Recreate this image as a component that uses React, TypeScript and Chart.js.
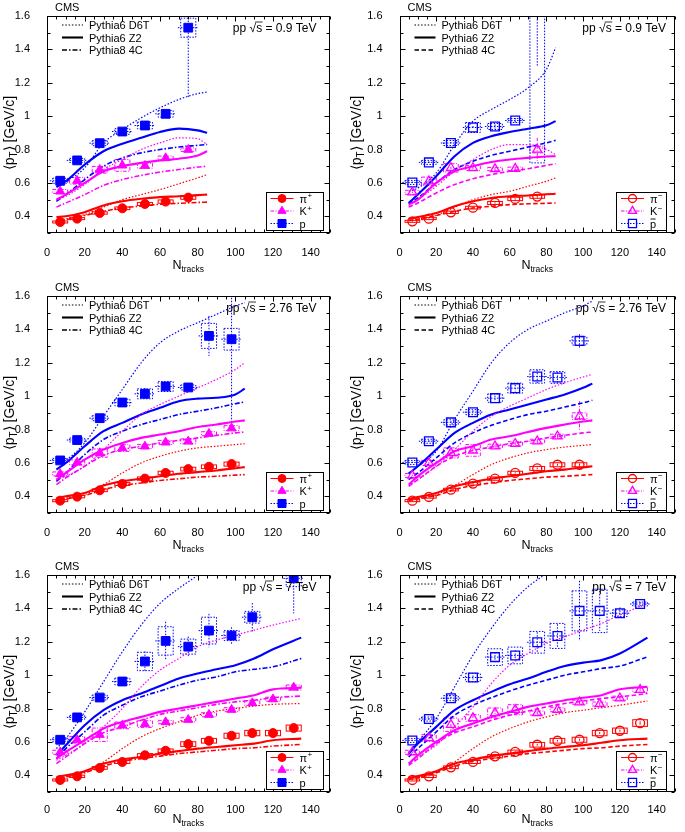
import React, { useEffect, useRef } from "react";
import { Chart, registerables } from "chart.js";

Chart.register(...registerables);

const FONT = '"Liberation Sans", Arial, Helvetica, sans-serif';

// ---------------- axis ticks ----------------
const X_TICKS = [0, 20, 40, 60, 80, 100, 120, 140];
const X_TICK_LABELS = ["0", "20", "40", "60", "80", "100", "120", "140"];
const Y_TICKS = [0.4, 0.6, 0.8, 1.0, 1.2, 1.4, 1.6];
const Y_TICK_LABELS = ["0.4", "0.6", "0.8", "1", "1.2", "1.4", "1.6"];

// ---------------- data: sqrt(s) = 0.9 TeV ----------------
const N_09 = [7, 16, 28, 40, 52, 63, 75];
const PIP_09 = [0.366, 0.386, 0.42, 0.448, 0.474, 0.488, 0.512];
const PIP_09_SYS = [0.006, 0.006, 0.007, 0.008, 0.009, 0.01, 0.01];
const PIP_09_STAT = [0.002, 0.002, 0.003, 0.003, 0.004, 0.004, 0.006];
const KP_09 = [0.549, 0.613, 0.679, 0.705, 0.703, 0.749, 0.799];
const KP_09_SYS = [0.012, 0.02, 0.02, 0.035, 0.015, 0.012, 0.01];
const KP_09_STAT = [0.004, 0.005, 0.006, 0.008, 0.01, 0.012, 0.015];
const PP_09 = [0.613, 0.735, 0.838, 0.908, 0.944, 1.014, 1.53];
const PP_09_SYS = [0.015, 0.012, 0.015, 0.017, 0.02, 0.02, 0.057];
const PP_09_STAT = [0.005, 0.006, 0.007, 0.009, 0.012, 0.015, 0.42];

const PIM_09 = [0.37, 0.386, 0.424, 0.452, 0.48, 0.504, 0.518];
const PIM_09_SYS = [0.006, 0.006, 0.007, 0.008, 0.009, 0.01, 0.01];
const PIM_09_STAT = [0.002, 0.002, 0.003, 0.003, 0.004, 0.004, 0.006];
const KM_09 = [0.544, 0.61, 0.69, 0.69, 0.683, 0.685, 0.8];
const KM_09_SYS = [0.012, 0.025, 0.025, 0.015, 0.01, 0.01, 0.02];
const KM_09_STAT = [0.004, 0.005, 0.007, 0.008, 0.01, 0.012, 0.07];
const PM_09 = [0.603, 0.723, 0.839, 0.932, 0.938, 0.974, 1.8];
const PM_09_SYS = [0.012, 0.012, 0.015, 0.03, 0.018, 0.012, 1.08];
const PM_09_STAT = [0.005, 0.006, 0.007, 0.009, 0.012, 0.015, 0.5];

// model curves 0.9 TeV
const G_09 = [5, 10, 20, 30, 40, 50, 60, 70, 80, 85];
const PIP_09_D6T = [0.38, 0.385, 0.41, 0.455, 0.5, 0.53, 0.56, 0.595, 0.63, 0.65];
const PIP_09_Z2 = [0.395, 0.4, 0.425, 0.465, 0.49, 0.505, 0.515, 0.52, 0.527, 0.53];
const PIP_09_4C = [0.375, 0.38, 0.405, 0.43, 0.45, 0.462, 0.472, 0.478, 0.483, 0.485];
const KP_09_D6T = [0.5, 0.52, 0.59, 0.68, 0.74, 0.8, 0.84, 0.87, 0.865, 0.83];
const KP_09_Z2 = [0.5, 0.53, 0.6, 0.67, 0.7, 0.72, 0.735, 0.745, 0.765, 0.79];
const KP_09_4C = [0.455, 0.48, 0.53, 0.585, 0.62, 0.645, 0.665, 0.68, 0.695, 0.7];
const PP_09_D6T = [0.61, 0.615, 0.69, 0.84, 0.92, 0.99, 1.05, 1.1, 1.135, 1.145];
const PP_09_Z2 = [0.575, 0.61, 0.71, 0.79, 0.835, 0.87, 0.905, 0.925, 0.915, 0.9];
const PP_09_4C = [0.49, 0.53, 0.62, 0.7, 0.75, 0.78, 0.8, 0.815, 0.825, 0.83];

const PIM_09_D6T = [0.375, 0.382, 0.405, 0.455, 0.5, 0.53, 0.55, 0.58, 0.61, 0.63];
const PIM_09_Z2 = [0.385, 0.395, 0.42, 0.46, 0.49, 0.51, 0.52, 0.525, 0.532, 0.535];
const PIM_09_4C = [0.375, 0.382, 0.405, 0.43, 0.45, 0.46, 0.47, 0.475, 0.478, 0.48];
const KM_09_D6T = [0.465, 0.5, 0.58, 0.67, 0.74, 0.8, 0.83, 0.83, 0.8, 0.77];
const KM_09_Z2 = [0.47, 0.5, 0.6, 0.67, 0.7, 0.725, 0.74, 0.75, 0.758, 0.76];
const KM_09_4C = [0.455, 0.48, 0.54, 0.59, 0.625, 0.65, 0.67, 0.685, 0.705, 0.715];
const PM_09_D6T = [0.55, 0.57, 0.66, 0.83, 0.97, 1.04, 1.1, 1.17, 1.28, 1.41];
const PM_09_Z2 = [0.48, 0.53, 0.64, 0.76, 0.84, 0.88, 0.905, 0.925, 0.945, 0.97];
const PM_09_4C = [0.475, 0.51, 0.6, 0.68, 0.73, 0.765, 0.79, 0.815, 0.84, 0.855];

// ---------------- data: sqrt(s) = 2.76 TeV ----------------
const N_276 = [7, 16, 28, 40, 52, 63, 75, 86, 98];
const PIP_276 = [0.374, 0.398, 0.436, 0.474, 0.506, 0.54, 0.563, 0.577, 0.593];
const PIP_276_SYS = [0.006, 0.007, 0.008, 0.009, 0.01, 0.01, 0.011, 0.011, 0.012];
const PIP_276_STAT = [0.002, 0.002, 0.003, 0.003, 0.004, 0.004, 0.005, 0.006, 0.007];
const KP_276 = [0.534, 0.603, 0.659, 0.689, 0.699, 0.723, 0.729, 0.775, 0.808];
const KP_276_SYS = [0.012, 0.015, 0.025, 0.02, 0.012, 0.012, 0.015, 0.012, 0.015];
const KP_276_STAT = [0.004, 0.005, 0.006, 0.007, 0.008, 0.009, 0.01, 0.012, 0.014];
const PP_276 = [0.615, 0.737, 0.868, 0.962, 1.014, 1.058, 1.052, 1.361, 1.341];
const PP_276_SYS = [0.012, 0.012, 0.015, 0.02, 0.03, 0.03, 0.015, 0.075, 0.065];
const PP_276_STAT = [0.004, 0.005, 0.007, 0.01, 0.035, 0.02, 0.015, 0.12, 0.5];

const PIM_276 = [0.374, 0.396, 0.44, 0.476, 0.506, 0.54, 0.567, 0.589, 0.589];
const PIM_276_SYS = [0.006, 0.007, 0.008, 0.009, 0.01, 0.01, 0.012, 0.012, 0.012];
const PIM_276_STAT = [0.002, 0.002, 0.003, 0.003, 0.004, 0.004, 0.005, 0.006, 0.007];
const KM_276 = [0.525, 0.6, 0.66, 0.675, 0.7, 0.715, 0.73, 0.76, 0.88];
const KM_276_SYS = [0.012, 0.015, 0.03, 0.035, 0.012, 0.012, 0.012, 0.012, 0.02];
const KM_276_STAT = [0.004, 0.005, 0.03, 0.02, 0.008, 0.009, 0.01, 0.012, 0.09];
const PM_276 = [0.603, 0.73, 0.843, 0.904, 0.988, 1.048, 1.118, 1.112, 1.331];
const PM_276_SYS = [0.012, 0.012, 0.015, 0.015, 0.025, 0.03, 0.04, 0.035, 0.025];
const PM_276_STAT = [0.004, 0.005, 0.007, 0.01, 0.015, 0.02, 0.04, 0.03, 0.04];

// model curves 2.76 TeV
const G_276 = [5, 10, 20, 30, 40, 50, 60, 70, 80, 90, 100, 105];
const PIP_276_D6T = [0.385, 0.39, 0.41, 0.47, 0.54, 0.6, 0.64, 0.67, 0.69, 0.7, 0.71, 0.715];
const PIP_276_Z2 = [0.39, 0.4, 0.42, 0.465, 0.49, 0.505, 0.52, 0.535, 0.545, 0.555, 0.568, 0.575];
const PIP_276_4C = [0.375, 0.385, 0.405, 0.44, 0.465, 0.48, 0.495, 0.505, 0.515, 0.52, 0.527, 0.53];
const KP_276_D6T = [0.5, 0.52, 0.58, 0.68, 0.79, 0.89, 0.95, 1.0, 1.05, 1.1, 1.16, 1.2];
const KP_276_Z2 = [0.5, 0.54, 0.62, 0.68, 0.72, 0.75, 0.77, 0.79, 0.815, 0.83, 0.848, 0.855];
const KP_276_4C = [0.47, 0.51, 0.58, 0.645, 0.68, 0.7, 0.72, 0.735, 0.75, 0.765, 0.78, 0.785];
const PP_276_D6T = [0.61, 0.62, 0.72, 0.88, 1.04, 1.2, 1.32, 1.39, 1.44, 1.49, 1.54, 1.56];
const PP_276_Z2 = [0.56, 0.6, 0.7, 0.79, 0.84, 0.89, 0.93, 0.97, 0.985, 0.99, 1.01, 1.045];
const PP_276_4C = [0.49, 0.54, 0.65, 0.74, 0.79, 0.83, 0.86, 0.89, 0.91, 0.93, 0.955, 0.965];

const PIM_276_D6T = [0.38, 0.385, 0.41, 0.465, 0.53, 0.59, 0.63, 0.66, 0.68, 0.695, 0.705, 0.71];
const PIM_276_Z2 = [0.385, 0.395, 0.42, 0.46, 0.485, 0.505, 0.52, 0.535, 0.55, 0.56, 0.573, 0.58];
const PIM_276_4C = [0.375, 0.385, 0.405, 0.44, 0.465, 0.48, 0.495, 0.505, 0.515, 0.52, 0.527, 0.53];
const KM_276_D6T = [0.465, 0.5, 0.58, 0.68, 0.79, 0.88, 0.94, 0.99, 1.04, 1.08, 1.115, 1.13];
const KM_276_Z2 = [0.47, 0.52, 0.6, 0.67, 0.7, 0.74, 0.76, 0.785, 0.81, 0.83, 0.848, 0.855];
const KM_276_4C = [0.46, 0.5, 0.58, 0.64, 0.675, 0.695, 0.715, 0.73, 0.75, 0.765, 0.78, 0.785];
const PM_276_D6T = [0.54, 0.58, 0.67, 0.86, 1.03, 1.2, 1.32, 1.4, 1.45, 1.5, 1.54, 1.57];
const PM_276_Z2 = [0.535, 0.58, 0.68, 0.78, 0.84, 0.89, 0.92, 0.95, 0.98, 1.01, 1.05, 1.075];
const PM_276_4C = [0.5, 0.54, 0.63, 0.72, 0.78, 0.825, 0.86, 0.89, 0.91, 0.935, 0.96, 0.975];

// ---------------- data: sqrt(s) = 7 TeV ----------------
const N_7 = [7, 16, 28, 40, 52, 63, 75, 86, 98, 109, 120, 131];
const PIP_7 = [0.372, 0.394, 0.444, 0.48, 0.52, 0.547, 0.587, 0.607, 0.637, 0.653, 0.653, 0.683];
const PIP_7_SYS = [0.006, 0.007, 0.008, 0.009, 0.01, 0.011, 0.014, 0.014, 0.015, 0.016, 0.016, 0.018];
const PIP_7_STAT = [0.002, 0.002, 0.003, 0.003, 0.004, 0.004, 0.005, 0.005, 0.006, 0.006, 0.007, 0.008];
const KP_7 = [0.538, 0.613, 0.643, 0.699, 0.707, 0.719, 0.733, 0.763, 0.793, 0.833, 0.856, 0.926];
const KP_7_SYS = [0.012, 0.02, 0.04, 0.02, 0.02, 0.01, 0.012, 0.012, 0.012, 0.015, 0.012, 0.015];
const KP_7_STAT = [0.004, 0.005, 0.03, 0.01, 0.008, 0.008, 0.009, 0.01, 0.01, 0.012, 0.012, 0.015];
const PP_7 = [0.613, 0.747, 0.866, 0.962, 1.082, 1.205, 1.171, 1.267, 1.237, 1.347, null, 1.58];
const PP_7_SYS = [0.012, 0.012, 0.015, 0.02, 0.055, 0.085, 0.045, 0.08, 0.03, 0.035, 0, 0.05];
const PP_7_STAT = [0.004, 0.006, 0.008, 0.012, 0.06, 0.115, 0.06, 0.1, 0.05, 0.085, 0, 0.21];

const PIM_7 = [0.372, 0.394, 0.448, 0.48, 0.514, 0.54, 0.583, 0.607, 0.613, 0.653, 0.667, 0.713];
const PIM_7_SYS = [0.006, 0.007, 0.008, 0.009, 0.01, 0.011, 0.014, 0.014, 0.015, 0.016, 0.016, 0.02];
const PIM_7_STAT = [0.002, 0.002, 0.003, 0.003, 0.004, 0.004, 0.005, 0.005, 0.006, 0.006, 0.007, 0.01];
const KM_7 = [0.538, 0.623, 0.703, 0.743, 0.773, 0.793, 0.773, 0.793, 0.838, 0.827, 0.862, 0.912];
const KM_7_SYS = [0.012, 0.02, 0.04, 0.02, 0.03, 0.03, 0.012, 0.012, 0.012, 0.012, 0.012, 0.015];
const KM_7_STAT = [0.004, 0.006, 0.05, 0.02, 0.03, 0.03, 0.01, 0.01, 0.01, 0.01, 0.01, 0.012];
const PM_7 = [0.609, 0.737, 0.862, 0.986, 1.108, 1.118, 1.197, 1.235, 1.385, 1.385, 1.371, 1.426];
const PM_7_SYS = [0.012, 0.012, 0.015, 0.025, 0.05, 0.05, 0.065, 0.075, 0.12, 0.13, 0.02, 0.012];
const PM_7_STAT = [0.004, 0.006, 0.008, 0.012, 0.03, 0.03, 0.06, 0.07, 0.18, 0.12, 0.035, 0.012];

// model curves 7 TeV
const G_7 = [5, 10, 20, 30, 40, 50, 60, 70, 80, 90, 100, 110, 120, 135];
const PIP_7_D6T = [0.38, 0.39, 0.42, 0.48, 0.56, 0.63, 0.68, 0.72, 0.76, 0.785, 0.8, 0.815, 0.825, 0.83];
const PIP_7_Z2 = [0.39, 0.4, 0.425, 0.47, 0.495, 0.51, 0.53, 0.545, 0.56, 0.57, 0.58, 0.59, 0.61, 0.62];
const PIP_7_4C = [0.38, 0.39, 0.415, 0.455, 0.485, 0.5, 0.515, 0.53, 0.54, 0.55, 0.56, 0.565, 0.575, 0.585];
const KP_7_D6T = [0.49, 0.52, 0.59, 0.69, 0.8, 0.93, 1.03, 1.1, 1.17, 1.21, 1.24, 1.27, 1.3, 1.34];
const KP_7_Z2 = [0.5, 0.54, 0.61, 0.68, 0.72, 0.75, 0.78, 0.8, 0.82, 0.84, 0.86, 0.88, 0.915, 0.925];
const KP_7_4C = [0.47, 0.51, 0.59, 0.655, 0.69, 0.73, 0.765, 0.785, 0.805, 0.825, 0.84, 0.85, 0.865, 0.875];
const PP_7_D6T = [0.56, 0.62, 0.78, 0.96, 1.14, 1.3, 1.43, 1.52, 1.6, 1.7, 1.78, 1.85, 1.92, 2.0];
const PP_7_Z2 = [0.52, 0.58, 0.7, 0.79, 0.85, 0.89, 0.935, 0.98, 1.01, 1.035, 1.06, 1.1, 1.155, 1.225];
const PP_7_4C = [0.5, 0.56, 0.66, 0.76, 0.82, 0.87, 0.905, 0.94, 0.97, 0.99, 1.02, 1.035, 1.05, 1.1];

const PIM_7_D6T = [0.38, 0.39, 0.42, 0.48, 0.56, 0.63, 0.68, 0.72, 0.75, 0.775, 0.79, 0.805, 0.82, 0.845];
const PIM_7_Z2 = [0.385, 0.395, 0.425, 0.47, 0.495, 0.515, 0.53, 0.545, 0.56, 0.57, 0.58, 0.595, 0.61, 0.62];
const PIM_7_4C = [0.375, 0.385, 0.415, 0.455, 0.485, 0.5, 0.515, 0.53, 0.54, 0.55, 0.56, 0.565, 0.575, 0.585];
const KM_7_D6T = [0.47, 0.51, 0.58, 0.69, 0.81, 0.95, 1.06, 1.13, 1.19, 1.23, 1.27, 1.31, 1.36, 1.43];
const KM_7_Z2 = [0.47, 0.52, 0.6, 0.67, 0.71, 0.75, 0.78, 0.81, 0.83, 0.85, 0.865, 0.88, 0.915, 0.93];
const KM_7_4C = [0.46, 0.5, 0.59, 0.655, 0.69, 0.73, 0.76, 0.785, 0.81, 0.83, 0.845, 0.86, 0.87, 0.89];
const PM_7_D6T = [0.54, 0.6, 0.74, 0.93, 1.12, 1.28, 1.42, 1.53, 1.61, 1.7, 1.78, 1.85, 1.92, 2.0];
const PM_7_Z2 = [0.53, 0.59, 0.69, 0.79, 0.85, 0.9, 0.945, 0.98, 1.02, 1.055, 1.075, 1.09, 1.13, 1.225];
const PM_7_4C = [0.51, 0.56, 0.66, 0.76, 0.82, 0.865, 0.905, 0.94, 0.97, 1.0, 1.02, 1.04, 1.055, 1.11];

// ---------------- style / layout ----------------
const RED = "#ff0000";
const MAGENTA = "#ff00ff";
const BLUE = "#0000ff";
const BOX_HALF = 4; // half width of systematic boxes (Ntracks units)
const XBAR_HALF = 5.5;

const ROW_TOP = [0, 280, 559];
const ROW_H = [280, 279, 273];
const COL_LEFT = [0, 342];
const COL_W = [342, 343];
const PLOT_LEFT = [47, 57.5];
const PLOT_RIGHT_PAD = [12.5, 10];
const PLOT_TOP = 16;
const PLOT_BOTTOM = 233;

type Sp = { vals: (number | null)[]; sys: number[]; stat: number[] };
type PanelCfg = {
  row: number;
  col: number;
  energy: string;
  neg: boolean;
  N: number[];
  grid: number[];
  pi: Sp;
  k: Sp;
  p: Sp;
  piC: number[][];
  kC: number[][];
  pC: number[][];
};

const PANELS: PanelCfg[] = [
  {
    row: 0, col: 0, energy: "0.9", neg: false, N: N_09, grid: G_09,
    pi: { vals: PIP_09, sys: PIP_09_SYS, stat: PIP_09_STAT },
    k: { vals: KP_09, sys: KP_09_SYS, stat: KP_09_STAT },
    p: { vals: PP_09, sys: PP_09_SYS, stat: PP_09_STAT },
    piC: [PIP_09_D6T, PIP_09_Z2, PIP_09_4C],
    kC: [KP_09_D6T, KP_09_Z2, KP_09_4C],
    pC: [PP_09_D6T, PP_09_Z2, PP_09_4C],
  },
  {
    row: 0, col: 1, energy: "0.9", neg: true, N: N_09, grid: G_09,
    pi: { vals: PIM_09, sys: PIM_09_SYS, stat: PIM_09_STAT },
    k: { vals: KM_09, sys: KM_09_SYS, stat: KM_09_STAT },
    p: { vals: PM_09, sys: PM_09_SYS, stat: PM_09_STAT },
    piC: [PIM_09_D6T, PIM_09_Z2, PIM_09_4C],
    kC: [KM_09_D6T, KM_09_Z2, KM_09_4C],
    pC: [PM_09_D6T, PM_09_Z2, PM_09_4C],
  },
  {
    row: 1, col: 0, energy: "2.76", neg: false, N: N_276, grid: G_276,
    pi: { vals: PIP_276, sys: PIP_276_SYS, stat: PIP_276_STAT },
    k: { vals: KP_276, sys: KP_276_SYS, stat: KP_276_STAT },
    p: { vals: PP_276, sys: PP_276_SYS, stat: PP_276_STAT },
    piC: [PIP_276_D6T, PIP_276_Z2, PIP_276_4C],
    kC: [KP_276_D6T, KP_276_Z2, KP_276_4C],
    pC: [PP_276_D6T, PP_276_Z2, PP_276_4C],
  },
  {
    row: 1, col: 1, energy: "2.76", neg: true, N: N_276, grid: G_276,
    pi: { vals: PIM_276, sys: PIM_276_SYS, stat: PIM_276_STAT },
    k: { vals: KM_276, sys: KM_276_SYS, stat: KM_276_STAT },
    p: { vals: PM_276, sys: PM_276_SYS, stat: PM_276_STAT },
    piC: [PIM_276_D6T, PIM_276_Z2, PIM_276_4C],
    kC: [KM_276_D6T, KM_276_Z2, KM_276_4C],
    pC: [PM_276_D6T, PM_276_Z2, PM_276_4C],
  },
  {
    row: 2, col: 0, energy: "7", neg: false, N: N_7, grid: G_7,
    pi: { vals: PIP_7, sys: PIP_7_SYS, stat: PIP_7_STAT },
    k: { vals: KP_7, sys: KP_7_SYS, stat: KP_7_STAT },
    p: { vals: PP_7, sys: PP_7_SYS, stat: PP_7_STAT },
    piC: [PIP_7_D6T, PIP_7_Z2, PIP_7_4C],
    kC: [KP_7_D6T, KP_7_Z2, KP_7_4C],
    pC: [PP_7_D6T, PP_7_Z2, PP_7_4C],
  },
  {
    row: 2, col: 1, energy: "7", neg: true, N: N_7, grid: G_7,
    pi: { vals: PIM_7, sys: PIM_7_SYS, stat: PIM_7_STAT },
    k: { vals: KM_7, sys: KM_7_SYS, stat: KM_7_STAT },
    p: { vals: PM_7, sys: PM_7_SYS, stat: PM_7_STAT },
    piC: [PIM_7_D6T, PIM_7_Z2, PIM_7_4C],
    kC: [KM_7_D6T, KM_7_Z2, KM_7_4C],
    pC: [PM_7_D6T, PM_7_Z2, PM_7_4C],
  },
];

const COLORS = [RED, MAGENTA, BLUE];
const MARKERS = ["circle", "triangle", "rect"];
const RADII = [4.5, 5.2, 6.2];
const SPECIES_DASH = [[], [3.5, 1.5, 1, 1.5], [1.5, 1.5]];

function drawMarker(ctx: CanvasRenderingContext2D, style: string, x: number, y: number, r: number, color: string, open: boolean) {
  ctx.save();
  ctx.setLineDash([]);
  ctx.beginPath();
  if (style === "circle") {
    ctx.arc(x, y, r, 0, Math.PI * 2);
  } else if (style === "triangle") {
    for (let k = 0; k < 3; k++) {
      const ang = (k * 2 * Math.PI) / 3;
      const px = x + Math.sin(ang) * r;
      const py = y - Math.cos(ang) * r;
      if (k === 0) ctx.moveTo(px, py);
      else ctx.lineTo(px, py);
    }
    ctx.closePath();
  } else {
    const s = r * Math.SQRT1_2;
    ctx.rect(x - s, y - s, 2 * s, 2 * s);
  }
  if (!open) {
    ctx.fillStyle = color;
    ctx.fill();
  }
  ctx.strokeStyle = color;
  ctx.lineWidth = open ? 1.3 : 1;
  ctx.stroke();
  ctx.restore();
}

function errPlugin(): any {
  return {
    id: "errs",
    beforeDatasetsDraw(chart: any) {
      const { ctx, chartArea: a, scales } = chart;
      const xs = scales.x;
      const ys = scales.y;
      ctx.save();
      ctx.beginPath();
      ctx.rect(a.left, a.top, a.right - a.left, a.bottom - a.top);
      ctx.clip();
      chart.data.datasets.forEach((d: any) => {
        if (!d.sysErr) return;
        ctx.strokeStyle = d.errColor;
        ctx.lineWidth = 1;
        ctx.setLineDash(d.errDash);
        d.data.forEach((pt: any, i: number) => {
          if (pt.y == null) return;
          const cx = xs.getPixelForValue(pt.x);
          const x0 = xs.getPixelForValue(pt.x - BOX_HALF);
          const x1 = xs.getPixelForValue(pt.x + BOX_HALF);
          const s = d.sysErr[i];
          const e = d.statErr[i];
          const yt = ys.getPixelForValue(pt.y + s);
          const yb = ys.getPixelForValue(pt.y - s);
          ctx.strokeRect(x0, yt, x1 - x0, yb - yt);
          ctx.beginPath();
          ctx.moveTo(cx, ys.getPixelForValue(pt.y + e));
          ctx.lineTo(cx, ys.getPixelForValue(pt.y - e));
          if (d.xBar) {
            const cy = ys.getPixelForValue(pt.y);
            ctx.moveTo(xs.getPixelForValue(pt.x - XBAR_HALF), cy);
            ctx.lineTo(xs.getPixelForValue(pt.x + XBAR_HALF), cy);
          }
          ctx.stroke();
        });
      });
      ctx.restore();
    },
  };
}

function decorPlugin(p: PanelCfg): any {
  return {
    id: "decor",
    afterDraw(chart: any) {
      const ctx: CanvasRenderingContext2D = chart.ctx;
      const a = chart.chartArea;
      const xs = chart.scales.x;
      const ys = chart.scales.y;
      ctx.save();
      ctx.setLineDash([]);
      // frame
      ctx.strokeStyle = "#000";
      ctx.lineWidth = 1;
      const L = Math.round(a.left) + 0.5;
      const T = Math.round(a.top) + 0.5;
      const R = Math.round(a.right) - 0.5;
      const B = Math.round(a.bottom) - 0.5;
      ctx.strokeRect(L, T, R - L, B - T);
      // inward ticks
      ctx.beginPath();
      for (let v = 0; v <= 150; v += 5) {
        const px = Math.round(xs.getPixelForValue(v)) + 0.5;
        const len = v % 20 === 0 ? 5 : 3;
        ctx.moveTo(px, B);
        ctx.lineTo(px, B - len);
        ctx.moveTo(px, T);
        ctx.lineTo(px, T + len);
      }
      for (let k = 3; k <= 16; k++) {
        const v = k / 10;
        const py = Math.round(ys.getPixelForValue(v)) + 0.5;
        const len = k % 2 === 0 ? 5 : 3;
        ctx.moveTo(L, py);
        ctx.lineTo(L + len, py);
        ctx.moveTo(R, py);
        ctx.lineTo(R - len, py);
      }
      ctx.stroke();

      ctx.fillStyle = "#000";
      ctx.textAlign = "left";
      ctx.textBaseline = "alphabetic";
      // CMS
      ctx.font = `11px ${FONT}`;
      ctx.fillText("CMS", a.left + 8, a.top - 5);

      // energy label
      ctx.font = `12px ${FONT}`;
      const label = `pp \u221As = ${p.energy} TeV`;
      const w = ctx.measureText(label).width;
      const gap = p.col === 0 ? 13 : 9;
      const sx = a.right - gap - w;
      const by = a.top + 16;
      ctx.fillText(label, sx, by);
      const w1 = ctx.measureText("pp \u221A").width;
      const ws = ctx.measureText("s").width;
      ctx.beginPath();
      ctx.lineWidth = 0.8;
      ctx.moveTo(sx + w1 - 1, by - 10);
      ctx.lineTo(sx + w1 + ws + 0.5, by - 10);
      ctx.stroke();

      // tune legend (top-left)
      const tunes = ["Pythia6 D6T", "Pythia6 Z2", "Pythia8 4C"];
      const tDash = [[1.5, 1.8], [], p.col === 0 ? [5, 2, 1.5, 2] : [4.5, 2.5]];
      const tW = [1.2, 2.1, 1.6];
      ctx.font = `11px ${FONT}`;
      tunes.forEach((t, i) => {
        const yc = a.top + 9 + i * 12.5;
        ctx.beginPath();
        ctx.setLineDash(tDash[i]);
        ctx.lineWidth = tW[i];
        ctx.strokeStyle = "#000";
        ctx.moveTo(a.left + 15, yc);
        ctx.lineTo(a.left + 36, yc);
        ctx.stroke();
        ctx.setLineDash([]);
        ctx.fillText(t, a.left + 42, yc + 4);
      });

      // species legend box (bottom-right)
      const bw = p.col === 0 ? 57 : 50;
      const bgap = p.col === 0 ? 7 : 9;
      const bx1 = a.right - bgap;
      const bx0 = bx1 - bw;
      const by1 = a.bottom - 3;
      const by0 = by1 - 38;
      ctx.fillStyle = "#fff";
      ctx.fillRect(bx0, by0, bw, 38);
      ctx.strokeStyle = "#000";
      ctx.lineWidth = 1;
      ctx.strokeRect(Math.round(bx0) + 0.5, Math.round(by0) + 0.5, bw, 38);
      const names = ["\u03C0", "K", "p"];
      for (let j = 0; j < 3; j++) {
        const yc = by0 + 6.5 + j * 12.5;
        ctx.beginPath();
        ctx.strokeStyle = COLORS[j];
        ctx.lineWidth = 1;
        ctx.setLineDash(SPECIES_DASH[j]);
        ctx.moveTo(bx0 + 5, yc);
        ctx.lineTo(bx0 + 28, yc);
        ctx.stroke();
        ctx.setLineDash([]);
        drawMarker(ctx, MARKERS[j], bx0 + 16.5, yc, RADII[j] - 0.5, COLORS[j], p.neg);
        ctx.fillStyle = "#000";
        ctx.font = `11px ${FONT}`;
        const tx = bx0 + 34;
        ctx.fillText(names[j], tx, yc + 4);
        const nw = ctx.measureText(names[j]).width;
        if (j < 2) {
          ctx.font = `8px ${FONT}`;
          ctx.fillText(p.neg ? "\u2212" : "+", tx + nw + 0.5, yc - 0.5);
        } else if (p.neg) {
          ctx.beginPath();
          ctx.strokeStyle = "#000";
          ctx.lineWidth = 0.9;
          ctx.moveTo(tx + 0.5, yc - 4.5);
          ctx.lineTo(tx + nw - 0.5, yc - 4.5);
          ctx.stroke();
        }
      }

      // x title N_tracks
      ctx.fillStyle = "#000";
      ctx.font = `12.5px ${FONT}`;
      const nW = ctx.measureText("N").width;
      ctx.font = `8.5px ${FONT}`;
      const subW = ctx.measureText("tracks").width;
      const xc = (a.left + a.right) / 2;
      const xb = a.bottom + (p.row === 2 ? 31 : 36);
      const x0t = xc - (nW + subW) / 2;
      ctx.font = `12.5px ${FONT}`;
      ctx.fillText("N", x0t, xb);
      ctx.font = `8.5px ${FONT}`;
      ctx.fillText("tracks", x0t + nW, xb + 3);

      // y title <p_T> [GeV/c]
      ctx.save();
      ctx.translate(p.col === 0 ? 14 : 19, a.top + 117);
      ctx.rotate(-Math.PI / 2);
      ctx.font = `14px ${FONT}`;
      const s1 = "\u27E8p";
      const s3 = "\u27E9 [GeV/c]";
      const w1t = ctx.measureText(s1).width;
      const w3t = ctx.measureText(s3).width;
      ctx.font = `10px ${FONT}`;
      const w2t = ctx.measureText("T").width;
      const start = -(w1t + w2t + w3t) / 2;
      ctx.font = `14px ${FONT}`;
      ctx.fillText(s1, start, 0);
      ctx.font = `10px ${FONT}`;
      ctx.fillText("T", start + w1t, 3);
      ctx.font = `14px ${FONT}`;
      ctx.fillText(s3, start + w1t + w2t, 0);
      ctx.restore();

      ctx.restore();
    },
  };
}

function buildConfig(p: PanelCfg): any {
  const H = ROW_H[p.row];
  const sps = [p.pi, p.k, p.p];
  const curves = [p.piC, p.kC, p.pC];
  const datasets: any[] = [];
  sps.forEach((sp, j) => {
    datasets.push({
      type: "line",
      showLine: false,
      data: p.N.map((n, i) => ({ x: n, y: sp.vals[i] })),
      pointStyle: MARKERS[j],
      pointRadius: RADII[j],
      pointHoverRadius: RADII[j],
      pointBackgroundColor: p.neg ? "rgba(255,255,255,0)" : COLORS[j],
      pointBorderColor: COLORS[j],
      pointBorderWidth: p.neg ? 1.3 : 1,
      borderColor: COLORS[j],
      backgroundColor: COLORS[j],
      sysErr: sp.sys,
      statErr: sp.stat,
      errColor: COLORS[j],
      errDash: SPECIES_DASH[j],
      xBar: j === 2,
    });
  });
  const tuneDash = [[1.5, 1.8], [], p.col === 0 ? [5, 2, 1.5, 2] : [4.5, 2.5]];
  const tuneWidth = [1.2, 2.1, 1.6];
  curves.forEach((set, j) =>
    set.forEach((vals, t) =>
      datasets.push({
        type: "line",
        data: p.grid.map((g, i) => ({ x: g, y: vals[i] })),
        borderColor: COLORS[j],
        borderWidth: tuneWidth[t],
        borderDash: tuneDash[t],
        pointRadius: 0,
        cubicInterpolationMode: "monotone",
        fill: false,
      })
    )
  );

  return {
    type: "line",
    data: { datasets },
    options: {
      responsive: false,
      maintainAspectRatio: false,
      animation: false,
      events: [],
      devicePixelRatio: 1,
      layout: { padding: { left: 0, right: PLOT_RIGHT_PAD[p.col], top: PLOT_TOP, bottom: 0 } },
      plugins: { legend: { display: false }, tooltip: { enabled: false }, title: { display: false } },
      scales: {
        x: {
          type: "linear",
          min: 0,
          max: 150,
          grid: { display: false },
          border: { display: false },
          ticks: {
            autoSkip: false,
            maxRotation: 0,
            padding: p.row === 2 ? 3 : 5,
            color: "#000",
            font: { family: FONT, size: 11 },
            callback: (_v: any, i: number) => X_TICK_LABELS[i],
          },
          afterBuildTicks: (s: any) => {
            s.ticks = X_TICKS.map((v) => ({ value: v }));
          },
          afterFit: (s: any) => {
            s.height = H - PLOT_BOTTOM;
            s.paddingLeft = 0;
            s.paddingRight = 0;
          },
        },
        y: {
          type: "linear",
          min: 0.3,
          max: 1.6,
          grid: { display: false },
          border: { display: false },
          ticks: {
            autoSkip: false,
            padding: 9,
            color: "#000",
            font: { family: FONT, size: 11 },
            callback: (_v: any, i: number) => Y_TICK_LABELS[i],
          },
          afterBuildTicks: (s: any) => {
            s.ticks = Y_TICKS.map((v) => ({ value: v }));
          },
          afterFit: (s: any) => {
            s.width = PLOT_LEFT[p.col];
            s.paddingTop = 0;
            s.paddingBottom = 0;
          },
        },
      },
    },
    plugins: [errPlugin(), decorPlugin(p)],
  };
}

function Panel({ cfg }: { cfg: PanelCfg }) {
  const ref = useRef<HTMLCanvasElement>(null);
  useEffect(() => {
    if (!ref.current) return;
    const chart = new Chart(ref.current, buildConfig(cfg));
    return () => chart.destroy();
  }, [cfg]);
  const w = COL_W[cfg.col];
  const h = ROW_H[cfg.row];
  return (
    <canvas
      ref={ref}
      width={w}
      height={h}
      style={{ position: "absolute", left: COL_LEFT[cfg.col], top: ROW_TOP[cfg.row], width: w, height: h }}
    />
  );
}

export default function App() {
  return (
    <div style={{ position: "absolute", left: 0, top: 0, width: 685, height: 832, background: "#fff" }}>
      {PANELS.map((p, i) => (
        <Panel key={i} cfg={p} />
      ))}
    </div>
  );
}
